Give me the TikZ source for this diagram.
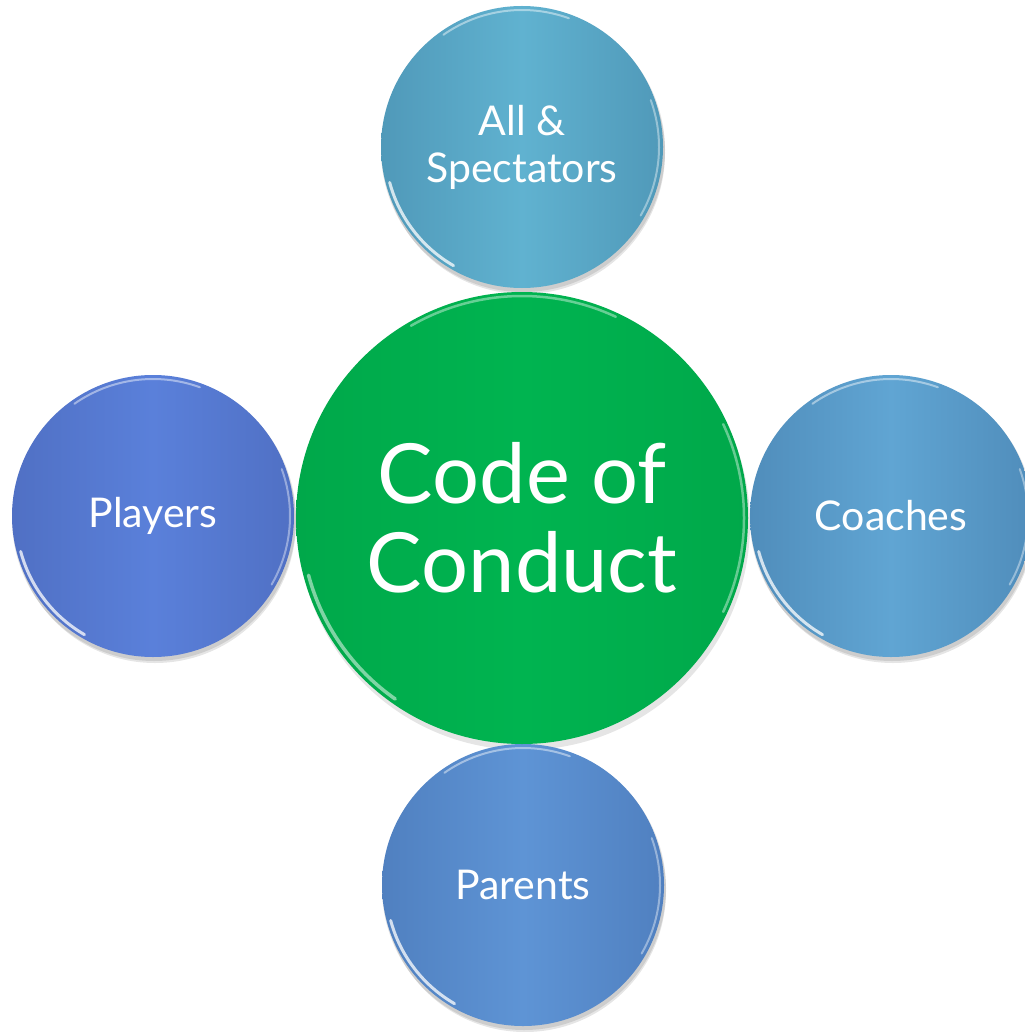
\documentclass[tikz,border=0pt]{standalone}
\usepackage{fontspec}
\setmainfont{Lato}
\usetikzlibrary{calc}
\definecolor{topc}{HTML}{60B2D0}
\definecolor{topd}{HTML}{5099B9}
\definecolor{leftc}{HTML}{5A80DA}
\definecolor{leftd}{HTML}{5070C4}
\definecolor{rightc}{HTML}{60A5D3}
\definecolor{rightd}{HTML}{508DBB}
\definecolor{botc}{HTML}{5E94D5}
\definecolor{botd}{HTML}{5080C0}
\definecolor{grc}{HTML}{00B450}
\definecolor{grd}{HTML}{00A84A}
\tikzset{
  sat/.style={circle, minimum size=282pt, inner sep=0pt, text=white,
    font=\fontsize{41}{47}\selectfont, align=center},
  cen/.style={circle, minimum size=452pt, inner sep=0pt, text=white,
    font=\fontsize{83}{89}\selectfont, align=center},
  shad/.style={fill=black, opacity=0.10},
  hl/.style={white, line cap=round, opacity=0.75},
}
\begin{document}
\begin{tikzpicture}[x=1pt,y=-1pt]
\useasboundingbox (0,0) rectangle (1024,1032);
\fill[white] (0,0) rectangle (1024,1032);
% shadows
\foreach \cx/\cy in {522/147, 153/516, 891/516, 523/885}{
  \fill[shad] (\cx+2,\cy+6) circle[radius=141pt];
  \fill[shad] (\cx+1,\cy+3) circle[radius=142pt];
}
\fill[shad] (524,524) circle[radius=226pt];
% satellites
\node[sat, left color=topd, right color=topd, middle color=topc] (top) at (522,147) {All \&\\Spectators};
\node[sat, left color=leftd, right color=leftd, middle color=leftc] (left) at (153,516) {Players};
\node[sat, left color=rightd, right color=rightd, middle color=rightc] (right) at (891,516) {Coaches};
\node[sat, left color=botd, right color=botd, middle color=botc] (bot) at (523,885) {Parents};
% centre
\node[cen, left color=grd, right color=grd, middle color=grc] (c) at (522,518) {Code of\\Conduct};
% highlights (canvas angles: counter-clockwise, y up)
\foreach \n in {top,left,right,bot}{
  \draw[hl, line width=3pt] ($(\n.center)+(195:137pt)$) arc[start angle=195, end angle=240, radius=137pt];
  \draw[hl, line width=2pt, opacity=0.45] ($(\n.center)+(70:137pt)$) arc[start angle=70, end angle=125, radius=137pt];
  \draw[hl, line width=2pt, opacity=0.4] ($(\n.center)+(-30:137pt)$) arc[start angle=-30, end angle=20, radius=137pt];
}
\draw[hl, line width=3.5pt, opacity=0.5] ($(c.center)+(195:221pt)$) arc[start angle=195, end angle=235, radius=221pt];
\draw[hl, line width=2.5pt, opacity=0.4] ($(c.center)+(65:222pt)$) arc[start angle=65, end angle=120, radius=222pt];
\draw[hl, line width=2.5pt, opacity=0.4] ($(c.center)+(-25:222pt)$) arc[start angle=-25, end angle=25, radius=222pt];
\end{tikzpicture}
\end{document}
